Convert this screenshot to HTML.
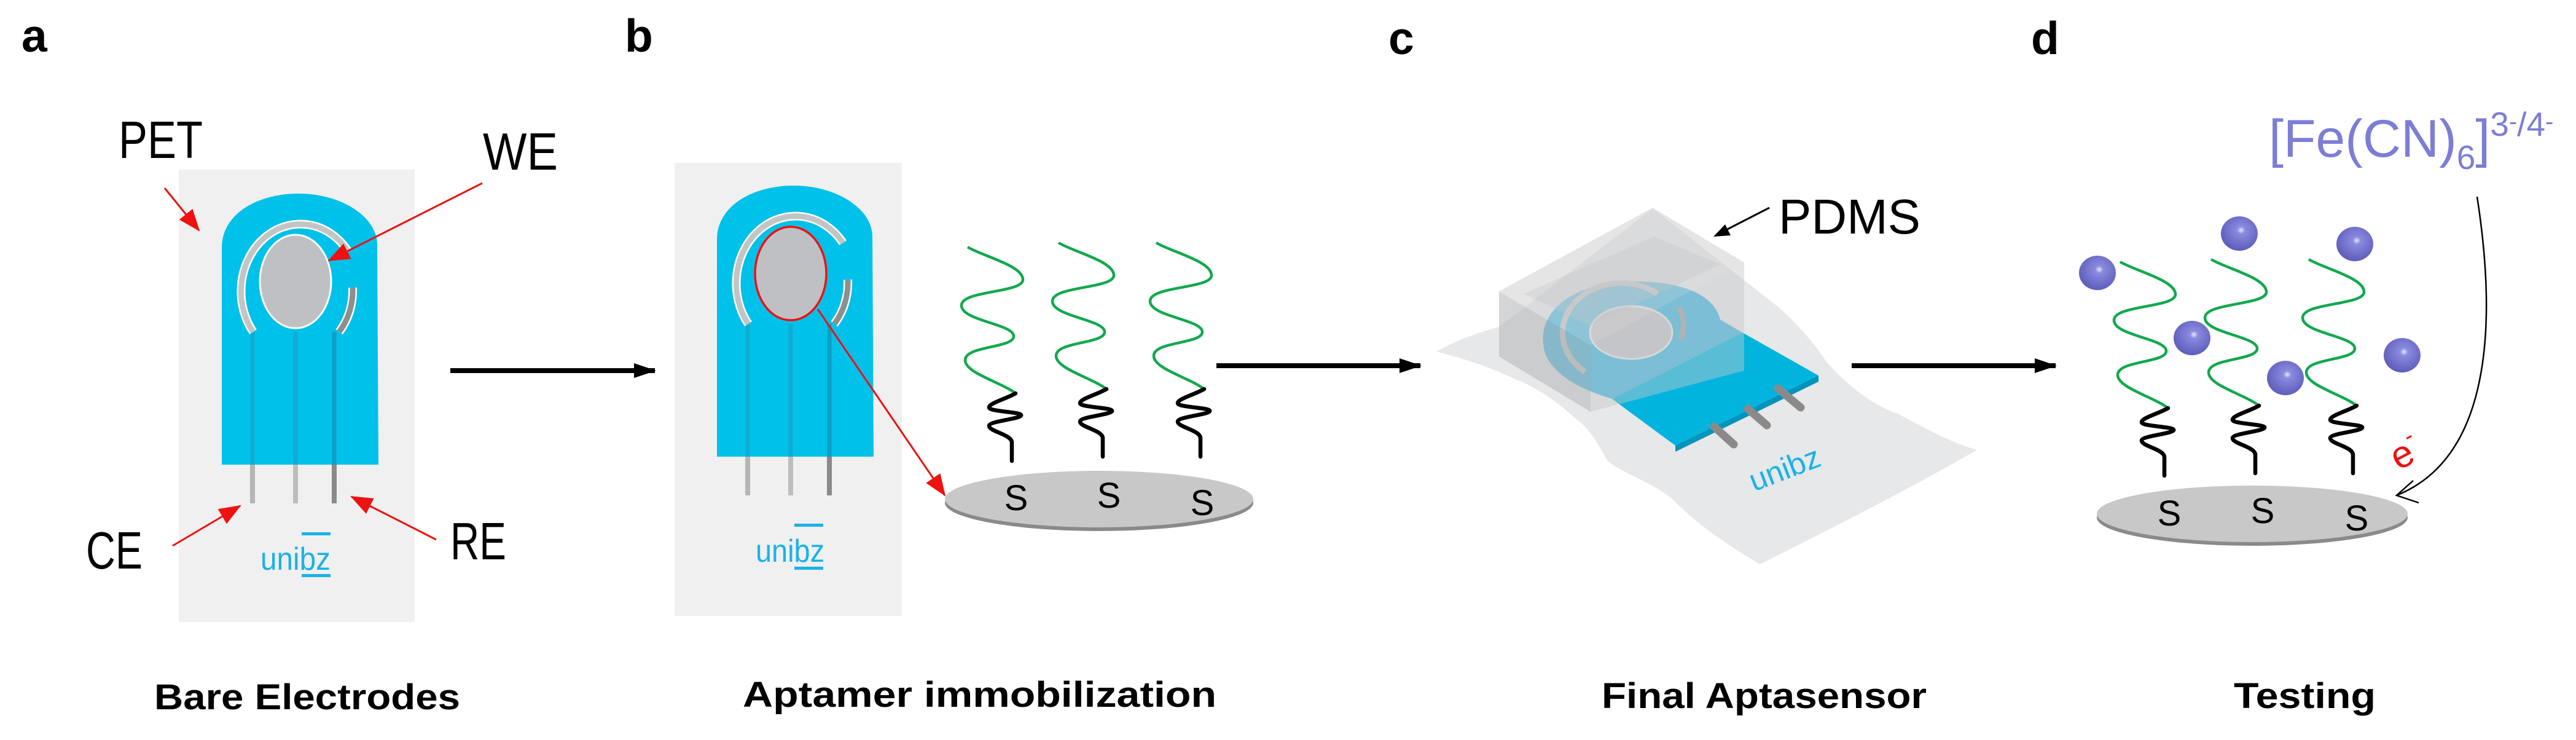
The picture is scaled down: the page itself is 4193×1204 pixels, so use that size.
<!DOCTYPE html>
<html><head><meta charset="utf-8"><style>
html,body{margin:0;padding:0;background:#fff;}
svg{display:block;}
text{font-family:"Liberation Sans",sans-serif;}
</style></head><body>
<svg width="4193" height="1204" viewBox="0 0 4193 1204" xmlns="http://www.w3.org/2000/svg">
<defs>
<marker id="ra" markerUnits="userSpaceOnUse" markerWidth="40" markerHeight="30" refX="34" refY="14" orient="auto"><path d="M0,0 L36,14 L0,28 Z" fill="#ee1111"/></marker>
<marker id="ka" markerUnits="userSpaceOnUse" markerWidth="40" markerHeight="30" refX="34" refY="14" orient="auto"><path d="M0,2 L36,14 L0,26 Z" fill="#000"/></marker>
<radialGradient id="ball" cx="0.55" cy="0.4" r="0.6"><stop offset="0" stop-color="#e8e8ff"/><stop offset="0.18" stop-color="#8a8ae0"/><stop offset="1" stop-color="#5d5dbb"/></radialGradient>
<g id="el">
 <line x1="1217" y1="700" x2="1217" y2="806" stroke="#b5b5b5" stroke-width="8"/>
 <line x1="1287" y1="700" x2="1287" y2="806" stroke="#bdbdbd" stroke-width="8"/>
 <line x1="1350" y1="700" x2="1350" y2="806" stroke="#8a8a8a" stroke-width="8"/>
 <path d="M1167,743 L1167,390 C1167,335 1225,302 1292,302 C1362,302 1420,340 1420,385 L1422,743 Z" fill="#00c1ea"/>
 <line x1="1217" y1="527" x2="1217" y2="743" stroke="#1a9fc4" stroke-width="7" opacity="0.6"/>
 <line x1="1287" y1="527" x2="1287" y2="743" stroke="#1a9fc4" stroke-width="7" opacity="0.6"/>
 <line x1="1350" y1="527" x2="1350" y2="743" stroke="#1a8fb4" stroke-width="7" opacity="0.7"/>
 <path d="M1218,527 A90,102 0 1 1 1372,395" fill="none" stroke="#fff" stroke-width="14"/>
 <path d="M1218,527 A90,102 0 1 1 1372,395" fill="none" stroke="#c4c4c6" stroke-width="9"/>
 <path d="M1380,455 A90,102 0 0 1 1358,527" fill="none" stroke="#fff" stroke-width="14"/>
 <path d="M1380,455 A90,102 0 0 1 1358,527" fill="none" stroke="#8e8e90" stroke-width="9"/>
 <ellipse cx="1287" cy="445" rx="58" ry="76" fill="#bfc0c3" stroke="#fff" stroke-width="3"/>
</g>
<g id="apt">
 <path d="M0,0 C25,15 90,30 90,53 C90,75 -10,70 -10,95 C-10,120 75,125 75,145 C75,165 -4,160 -4,184 C-4,205 55,220 78,238" fill="none" stroke="#12a84e" stroke-width="4.5"/>
 <path d="M78,238 C60,248 35,254 35,261 C35,268 90,268 87,274 C84,280 35,283 35,291 C35,300 72,305 72,318 C72,330 72,340 72,348" fill="none" stroke="#000" stroke-width="6.5" stroke-linecap="round"/>
</g>
</defs>

<text x="35" y="84" font-size="75" font-weight="bold">a</text>
<text x="1017" y="84" font-size="75" font-weight="bold">b</text>
<text x="2260" y="88" font-size="75" font-weight="bold">c</text>
<text x="3306" y="88" font-size="75" font-weight="bold">d</text>

<!-- Panel A -->
<rect x="291" y="276" width="384" height="736" fill="#f0f0f0"/>
<use href="#el" transform="translate(-806,13)"/>
<text x="424" y="927" font-size="52" fill="#1ab2e8" textLength="114" lengthAdjust="spacingAndGlyphs">unibz</text>
<rect x="491" y="866" width="47" height="5" fill="#1ab2e8"/><rect x="491" y="934" width="47" height="5" fill="#1ab2e8"/>
<text x="193" y="257" font-size="85" textLength="137" lengthAdjust="spacingAndGlyphs">PET</text>
<text x="786" y="276" font-size="85" textLength="122" lengthAdjust="spacingAndGlyphs">WE</text>
<text x="140" y="925" font-size="85" textLength="92" lengthAdjust="spacingAndGlyphs">CE</text>
<text x="733" y="910" font-size="85" textLength="91" lengthAdjust="spacingAndGlyphs">RE</text>
<line x1="268" y1="306" x2="324" y2="375" stroke="#ee1111" stroke-width="3" marker-end="url(#ra)"/>
<line x1="785" y1="298" x2="535" y2="424" stroke="#ee1111" stroke-width="3" marker-end="url(#ra)"/>
<line x1="281" y1="888" x2="391" y2="823" stroke="#ee1111" stroke-width="3" marker-end="url(#ra)"/>
<line x1="710" y1="878" x2="572" y2="808" stroke="#ee1111" stroke-width="3" marker-end="url(#ra)"/>
<line x1="733" y1="603" x2="1066" y2="603" stroke="#000" stroke-width="8" marker-end="url(#ka)"/>
<text x="251" y="1154" font-size="58" font-weight="bold" textLength="498" lengthAdjust="spacingAndGlyphs">Bare Electrodes</text>

<!-- Panel B -->
<rect x="1098" y="265" width="370" height="737" fill="#f0f0f0"/>
<use href="#el"/>
<ellipse cx="1287" cy="445" rx="58" ry="76" fill="none" stroke="#ee1111" stroke-width="3.5"/>
<text x="1230" y="914" font-size="52" fill="#1ab2e8" textLength="112" lengthAdjust="spacingAndGlyphs">unibz</text>
<rect x="1293" y="852" width="47" height="5" fill="#1ab2e8"/><rect x="1293" y="922" width="47" height="5" fill="#1ab2e8"/>
<line x1="1331" y1="503" x2="1538" y2="806" stroke="#ee1111" stroke-width="3" marker-end="url(#ra)"/>
<ellipse cx="1789" cy="818" rx="251" ry="46" fill="#8a8a8a"/>
<ellipse cx="1789" cy="812" rx="251" ry="46" fill="#c8c8c8"/>
<use href="#apt" transform="translate(1575,402)"/>
<use href="#apt" transform="translate(1723,395)"/>
<use href="#apt" transform="translate(1882,395)"/>
<text x="1654" y="830" font-size="58" text-anchor="middle">S</text>
<text x="1805" y="826" font-size="58" text-anchor="middle">S</text>
<text x="1957" y="838" font-size="58" text-anchor="middle">S</text>
<line x1="1980" y1="595" x2="2312" y2="595" stroke="#000" stroke-width="8" marker-end="url(#ka)"/>
<text x="1209" y="1150" font-size="58" font-weight="bold" textLength="771" lengthAdjust="spacingAndGlyphs">Aptamer immobilization</text>

<!-- Panel C -->
<path d="M2338,572 C2360,560 2390,545 2440,532 L2690,339 L2894,499 C2940,540 2960,570 2974,590 C3010,630 3050,660 3089,673 C3140,700 3180,722 3218,732 C3100,800 2980,860 2865,918 C2800,880 2760,850 2720,810 C2680,780 2640,770 2617,750 C2600,720 2585,695 2567,683 C2530,650 2500,630 2467,617 C2430,600 2390,585 2338,572 Z" fill="#e7e8ea"/>
<polygon points="2624,649 2836,541 2960,611 2727,725" fill="#00b4de"/>
<polygon points="2727,725 2960,611 2960,621 2727,735" fill="#0093bb"/>
<line x1="2790" y1="694" x2="2822" y2="723" stroke="#8a8a8a" stroke-width="13" stroke-linecap="round"/>
<line x1="2845" y1="665" x2="2876" y2="692" stroke="#8a8a8a" stroke-width="13" stroke-linecap="round"/>
<line x1="2894" y1="632" x2="2931" y2="663" stroke="#8a8a8a" stroke-width="13" stroke-linecap="round"/>
<path d="M2512,560 C2505,500 2570,458 2660,458 C2740,458 2790,480 2800,520 L2836,541 L2624,649 C2560,630 2515,600 2512,560 Z" fill="#3fb6de"/>
<path d="M2580,605 A78,66 0 1 1 2698,478" fill="none" stroke="#c0c0c2" stroke-width="9"/>
<path d="M2733,500 A78,66 0 0 1 2735,552" fill="none" stroke="#a0a0a2" stroke-width="9"/>
<ellipse cx="2655" cy="541" rx="67" ry="43" fill="#c4c4c6" stroke="#e6e6e6" stroke-width="3"/>
<polygon points="2440,474 2690,338 2839,427 2589,562" fill="#cfd0d2" opacity="0.55"/>
<polygon points="2480,478 2692,385 2800,430 2589,530" fill="#c4c5c7" opacity="0.35"/>
<polygon points="2440,474 2589,562 2589,670 2440,580" fill="#b8b9bb" opacity="0.6"/>
<polygon points="2589,562 2839,427 2839,603 2589,670" fill="#c6c7c9" opacity="0.45"/>
<line x1="2880" y1="338" x2="2800" y2="379" stroke="#000" stroke-width="3"/>
<polygon points="2789,385 2808,365 2817,383" fill="#000"/>
<text x="2895" y="380" font-size="80" textLength="231" lengthAdjust="spacingAndGlyphs">PDMS</text>
<text x="0" y="0" font-size="50" fill="#1ab2e8" transform="translate(2855,800) rotate(-21)" textLength="120" lengthAdjust="spacingAndGlyphs">unibz</text>
<line x1="3014" y1="595" x2="3346" y2="595" stroke="#000" stroke-width="8" marker-end="url(#ka)"/>
<text x="2607" y="1152" font-size="58" font-weight="bold" textLength="529" lengthAdjust="spacingAndGlyphs">Final Aptasensor</text>

<!-- Panel D -->
<ellipse cx="3666" cy="842" rx="253" ry="46" fill="#8a8a8a"/>
<ellipse cx="3666" cy="836" rx="253" ry="46" fill="#c8c8c8"/>
<use href="#apt" transform="translate(3451,426)"/>
<use href="#apt" transform="translate(3599,422)"/>
<use href="#apt" transform="translate(3758,422)"/>
<text x="3531" y="855" font-size="58" text-anchor="middle">S</text>
<text x="3683" y="851" font-size="58" text-anchor="middle">S</text>
<text x="3836" y="863" font-size="58" text-anchor="middle">S</text>
<ellipse cx="3414" cy="444" rx="30" ry="28" fill="url(#ball)"/>
<ellipse cx="3645" cy="380" rx="30" ry="28" fill="url(#ball)"/>
<ellipse cx="3833" cy="397" rx="30" ry="28" fill="url(#ball)"/>
<ellipse cx="3568" cy="550" rx="30" ry="28" fill="url(#ball)"/>
<ellipse cx="3720" cy="615" rx="30" ry="28" fill="url(#ball)"/>
<ellipse cx="3910" cy="578" rx="30" ry="28" fill="url(#ball)"/>
<path d="M4032,320 C4060,500 4065,740 3901,806" fill="none" stroke="#000" stroke-width="2.5"/>
<path d="M3928,782 L3901,806 L3937,818" fill="none" stroke="#000" stroke-width="2.5"/>
<text x="0" y="0" font-size="62" fill="#ee1111" transform="translate(3904,766) rotate(-28)">e<tspan font-size="38" dy="-30">-</tspan></text>
<text x="3693" y="255" font-size="86" fill="#7b7dd6">[Fe(CN)<tspan font-size="55" dy="20">6</tspan><tspan dy="-20">]</tspan><tspan font-size="55" dy="-34">3</tspan><tspan font-size="40" dy="-10">-</tspan><tspan font-size="55" dy="10">/4</tspan><tspan font-size="40" dy="-10">-</tspan></text>
<text x="3636" y="1152" font-size="58" font-weight="bold" textLength="231" lengthAdjust="spacingAndGlyphs">Testing</text>
</svg>
</body></html>
